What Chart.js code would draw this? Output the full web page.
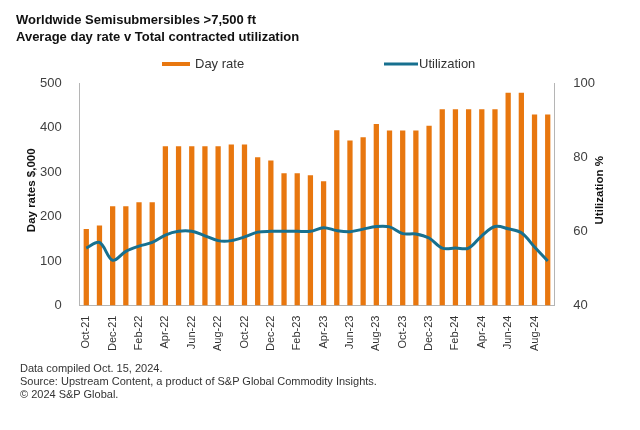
<!DOCTYPE html>
<html>
<head>
<meta charset="utf-8">
<script src="https://cdn.jsdelivr.net/npm/chart.js@4"></script>
<style>
    body { margin: 0; background: #fff; font-family: "Liberation Sans", Arial, sans-serif; }
    #wrap { position: relative; width: 640px; height: 430px; overflow: hidden; }
    #chart { position: absolute; left: 0; top: 0; }
    #title { position: absolute; left: 16px; top: 11px; font-weight: bold; font-size: 13px; line-height: 17px; color: #111; }
    #notes { position: absolute; left: 20px; top: 362px; font-size: 11px; line-height: 13px; color: #333; }
</style>
</head>
<body>
<div id="wrap">
    <canvas id="chart" width="640" height="430"></canvas>
    <div id="title">Worldwide Semisubmersibles &gt;7,500 ft<br>Average day rate v Total contracted utilization</div>
    <div id="notes">Data compiled Oct. 15, 2024.<br>Source: Upstream Content, a product of S&amp;P Global Commodity Insights.<br>© 2024 S&amp;P Global.</div>
</div>
<script>
// Data
const months = [
    "Oct-21", "Nov-21", "Dec-21", "Jan-22", "Feb-22", "Mar-22", "Apr-22", "May-22", "Jun-22",
    "Jul-22", "Aug-22", "Sep-22", "Oct-22", "Nov-22", "Dec-22", "Jan-23", "Feb-23", "Mar-23",
    "Apr-23", "May-23", "Jun-23", "Jul-23", "Aug-23", "Sep-23", "Oct-23", "Nov-23", "Dec-23",
    "Jan-24", "Feb-24", "Mar-24", "Apr-24", "May-24", "Jun-24", "Jul-24", "Aug-24", "Sep-24"
];
const dayRate = [
    172, 180, 223, 223, 232, 232, 358, 358, 358,
    358, 358, 362, 362, 333, 326, 297, 297, 293,
    279, 394, 371, 378, 408, 393, 393, 393, 404,
    441, 441, 441, 441, 441, 478, 478, 429, 429
];
const utilization = [
    55.5, 57.0, 52.2, 54.6, 56.0, 57.0, 59.0, 60.0, 60.0,
    58.8, 57.5, 57.5, 58.5, 59.8, 60.0, 60.0, 60.0, 60.0,
    61.0, 60.2, 59.9, 60.6, 61.3, 61.2, 59.4, 59.3, 58.2,
    55.5, 55.5, 55.5, 58.8, 61.3, 60.7, 59.6, 55.8, 52.0
];
const dayRateTicks = [0, 100, 200, 300, 400, 500];
const utilTicks = [40, 60, 80, 100];

const ORANGE = "#e8770f";
const TEAL = "#17708f";
const FONT = '"Liberation Sans", Arial, sans-serif';

// legend + axis titles drawn by hand so they sit where the reference puts them
const extras = {
    id: "extras",
    afterDraw(chart) {
        const ctx = chart.ctx;
        const area = chart.chartArea;
        const midY = (area.top + area.bottom) / 2;
        ctx.save();

        // legend
        ctx.font = "13px " + FONT;
        ctx.textBaseline = "middle";
        ctx.textAlign = "left";
        ctx.fillStyle = chart.data.datasets[0].backgroundColor;
        ctx.fillRect(162, 62, 28, 4);
        ctx.fillStyle = "#333";
        ctx.fillText(chart.data.datasets[0].label, 195, 64);
        ctx.strokeStyle = chart.data.datasets[1].borderColor;
        ctx.lineWidth = 3;
        ctx.beginPath();
        ctx.moveTo(384, 64);
        ctx.lineTo(418, 64);
        ctx.stroke();
        ctx.fillText(chart.data.datasets[1].label, 419, 64);

        // axis titles
        ctx.font = "bold 11.5px " + FONT;
        ctx.fillStyle = "#111";
        ctx.textAlign = "center";
        ctx.translate(32, midY - 4);
        ctx.rotate(-Math.PI / 2);
        ctx.fillText("Day rates $,000", 0, 0);
        ctx.restore();

        ctx.save();
        ctx.font = "bold 11.5px " + FONT;
        ctx.fillStyle = "#111";
        ctx.textAlign = "center";
        ctx.textBaseline = "middle";
        ctx.translate(600, midY - 4);
        ctx.rotate(-Math.PI / 2);
        ctx.fillText("Utilization %", 0, 0);
        ctx.restore();
    }
};

new Chart(document.getElementById("chart"), {
    type: "bar",
    data: {
        labels: months,
        datasets: [
            {
                label: "Day rate",
                data: dayRate,
                backgroundColor: ORANGE,
                barPercentage: 0.4,
                categoryPercentage: 1.0,
                yAxisID: "y",
                order: 1
            },
            {
                type: "line",
                label: "Utilization",
                data: utilization,
                borderColor: TEAL,
                backgroundColor: TEAL,
                borderWidth: 3,
                pointRadius: 0,
                tension: 0.35,
                yAxisID: "y1",
                order: 0
            }
        ]
    },
    options: {
        responsive: false,
        animation: false,
        layout: { padding: { left: 30, right: 34, top: 83, bottom: 77 } },
        plugins: {
            legend: { display: false },
            tooltip: { enabled: false }
        },
        scales: {
            x: {
                grid: { display: false },
                border: { display: true, color: "#b5b5b5" },
                ticks: {
                    autoSkip: false,
                    maxRotation: 90,
                    minRotation: 90,
                    padding: 2,
                    color: "#333",
                    font: { family: FONT, size: 11 },
                    callback: (val, i) => (i % 2 === 0 ? months[i] : "")
                }
            },
            y: {
                position: "left",
                min: dayRateTicks[0],
                max: dayRateTicks[dayRateTicks.length - 1],
                afterBuildTicks: axis => { axis.ticks = dayRateTicks.map(v => ({ value: v })); },
                grid: { display: false },
                border: { display: true, color: "#b5b5b5" },
                ticks: { padding: 10, color: "#404040", font: { family: FONT, size: 13 } }
            },
            y1: {
                position: "right",
                min: utilTicks[0],
                max: utilTicks[utilTicks.length - 1],
                afterBuildTicks: axis => { axis.ticks = utilTicks.map(v => ({ value: v })); },
                grid: { display: false },
                border: { display: true, color: "#b5b5b5" },
                ticks: { padding: 11, color: "#404040", font: { family: FONT, size: 13 } }
            }
        }
    },
    plugins: [extras]
});
</script>
</body>
</html>
